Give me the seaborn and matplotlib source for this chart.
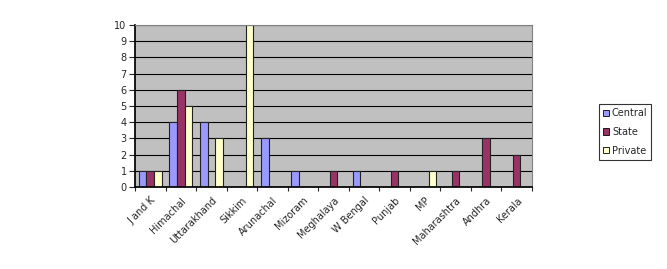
import matplotlib
matplotlib.use("Agg")
import matplotlib.pyplot as plt
import seaborn as sns
import pandas as pd
import numpy as np

states = ["J and K", "Himachal", "Uttarakhand", "Sikkim", "Arunachal", "Mizoram",
          "Meghalaya", "W Bengal", "Punjab", "MP", "Maharashtra", "Andhra", "Kerala"]
central = [1, 4, 4, 0, 3, 1, 0, 1, 0, 0, 0, 0, 0]
state = [1, 6, 0, 0, 0, 0, 1, 0, 1, 0, 1, 3, 2]
private = [1, 5, 3, 10, 0, 0, 0, 0, 0, 1, 0, 0, 0]
series = ["Central", "State", "Private"]
colors = ["#9999FF", "#993366", "#FFFFCC"]

df = pd.DataFrame({
    "State": states * 3,
    "Type": ["Central"] * len(states) + ["State"] * len(states) + ["Private"] * len(states),
    "Count": central + state + private,
})

sns.set_theme(style="white")
plt.rcParams['font.family'] = ['DejaVu Sans']

fig = plt.figure(figsize=(6.67, 2.69), dpi=100)
fig.patch.set_facecolor("white")
ax = fig.add_axes([0.2024, 0.3048, 0.595, 0.6022])
ax.set_facecolor("#C0C0C0")

sns.barplot(data=df, x="State", y="Count", hue="Type", hue_order=series,
            palette=colors, order=states, width=0.75, edgecolor="#222222",
            linewidth=0.8, ax=ax, saturation=1)

ax.set_ylim(0, 10)
ax.set_xlim(-0.5, len(states) - 0.5)
ax.set_yticks(range(0, 11))
ax.yaxis.grid(True, color="black", linewidth=0.8)
ax.set_axisbelow(True)
ax.set_xlabel("")
ax.set_ylabel("")
for s in ["top", "right"]:
    ax.spines[s].set_color("#808080")
    ax.spines[s].set_linewidth(0.8)
ax.spines["left"].set_color("black")
ax.spines["bottom"].set_color("black")
ax.tick_params(axis="y", labelsize=7, length=4, width=0.8, direction="out", left=True, pad=2)
ax.tick_params(axis="x", which="major", length=0, labelsize=7, pad=6)
ax.set_xticks(np.arange(-0.5, len(states), 1), minor=True)
ax.tick_params(axis="x", which="minor", length=3, width=0.8, direction="out", bottom=True)
ax.set_xticks(range(len(states)))
ax.set_xticklabels(states, rotation=45, ha="right", rotation_mode="anchor")

leg = ax.legend(loc="center left", bbox_to_anchor=(1.17, 0.34), frameon=True,
                fontsize=7, handlelength=0.6, handleheight=0.6, handletextpad=0.3,
                labelspacing=0.9, borderpad=0.4, borderaxespad=0, fancybox=False)
leg.get_frame().set_edgecolor("black")
leg.get_frame().set_linewidth(0.8)
for h in leg.legend_handles:
    h.set_edgecolor("black")
    h.set_linewidth(0.6)

fig.savefig("out.png", dpi=100)
